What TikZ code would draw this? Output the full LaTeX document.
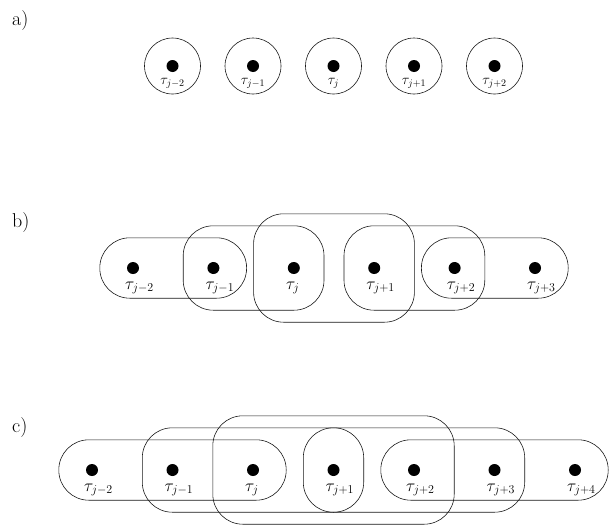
\documentclass[tikz,border=0pt]{standalone}
\usepackage{amsmath,amssymb}
\usetikzlibrary{fit}

\begin{document}
\begin{tikzpicture}[x=1pt, y=-1pt,
  every node/.style={inner sep=0pt},
  dot/.style={circle, fill=black, minimum size=12pt},
  ring/.style={circle, draw=black!90, line width=0.6pt, minimum size=56pt},
  tag/.style={anchor=base west, font=\fontsize{20}{24}\selectfont},
  lab/.style={anchor=base west, font=\fontsize{18}{22}\selectfont},
  smalllab/.style={anchor=base, font=\fontsize{14}{16}\selectfont},
  set/.style={draw=black!90, line width=0.6pt, rounded corners=30pt},
  low/.style={set, inner xsep=27pt, inner ysep=24pt},
  mid/.style={set, inner xsep=24pt, inner ysep=36pt},
  high/.style={set, inner xsep=34pt, inner ysep=48pt}]
  \useasboundingbox (0,0) rectangle (615,525);

  % a) one set per point
  \node[tag] (ta) at (12,25) {a)};
  \foreach \k/\s in {1/j-2, 2/j-1, 3/j, 4/j+1, 5/j+2} {
    \node[dot] (a\k) at ({172.5+80.5*(\k-1)},66) {};
    \node[smalllab] (la\k) at ([yshift=-18pt]a\k) {$\tau_{\s}$};
    \node[ring] (ra\k) at (a\k) {};
  }

  % b) pairs
  \node[tag] (tb) at (12,227) {b)};
  \foreach \k/\s in {1/j-2, 2/j-1, 3/j, 4/j+1, 5/j+2, 6/j+3} {
    \node[dot] (b\k) at ({133+80.4*(\k-1)},268) {};
    \node[lab] (lb\k) at ([xshift=-8pt, yshift=-21pt]b\k) {$\tau_{\s}$};
  }
  \node[low, fit=(b1)(b2)] (sb1) {};
  \node[mid, fit=(b2)(b3)] (sb2) {};
  \node[high, fit=(b3)(b4)] (sb3) {};
  \node[mid, fit=(b4)(b5)] (sb4) {};
  \node[low, fit=(b5)(b6)] (sb5) {};

  % c) triples
  \node[tag] (tc) at (12,432) {c)};
  \foreach \k/\s in {1/j-2, 2/j-1, 3/j, 4/j+1, 5/j+2, 6/j+3, 7/j+4} {
    \node[dot] (c\k) at ({92+80.5*(\k-1)},470) {};
    \node[lab] (lc\k) at ([xshift=-8pt, yshift=-21pt]c\k) {$\tau_{\s}$};
  }
  \node[low, fit=(c1)(c3)] (sc1) {};
  \node[mid, fit=(c2)(c4)] (sc2) {};
  \node[high, fit=(c3)(c5)] (sc3) {};
  \node[mid, fit=(c4)(c6)] (sc4) {};
  \node[low, fit=(c5)(c7)] (sc5) {};
\end{tikzpicture}
\end{document}
